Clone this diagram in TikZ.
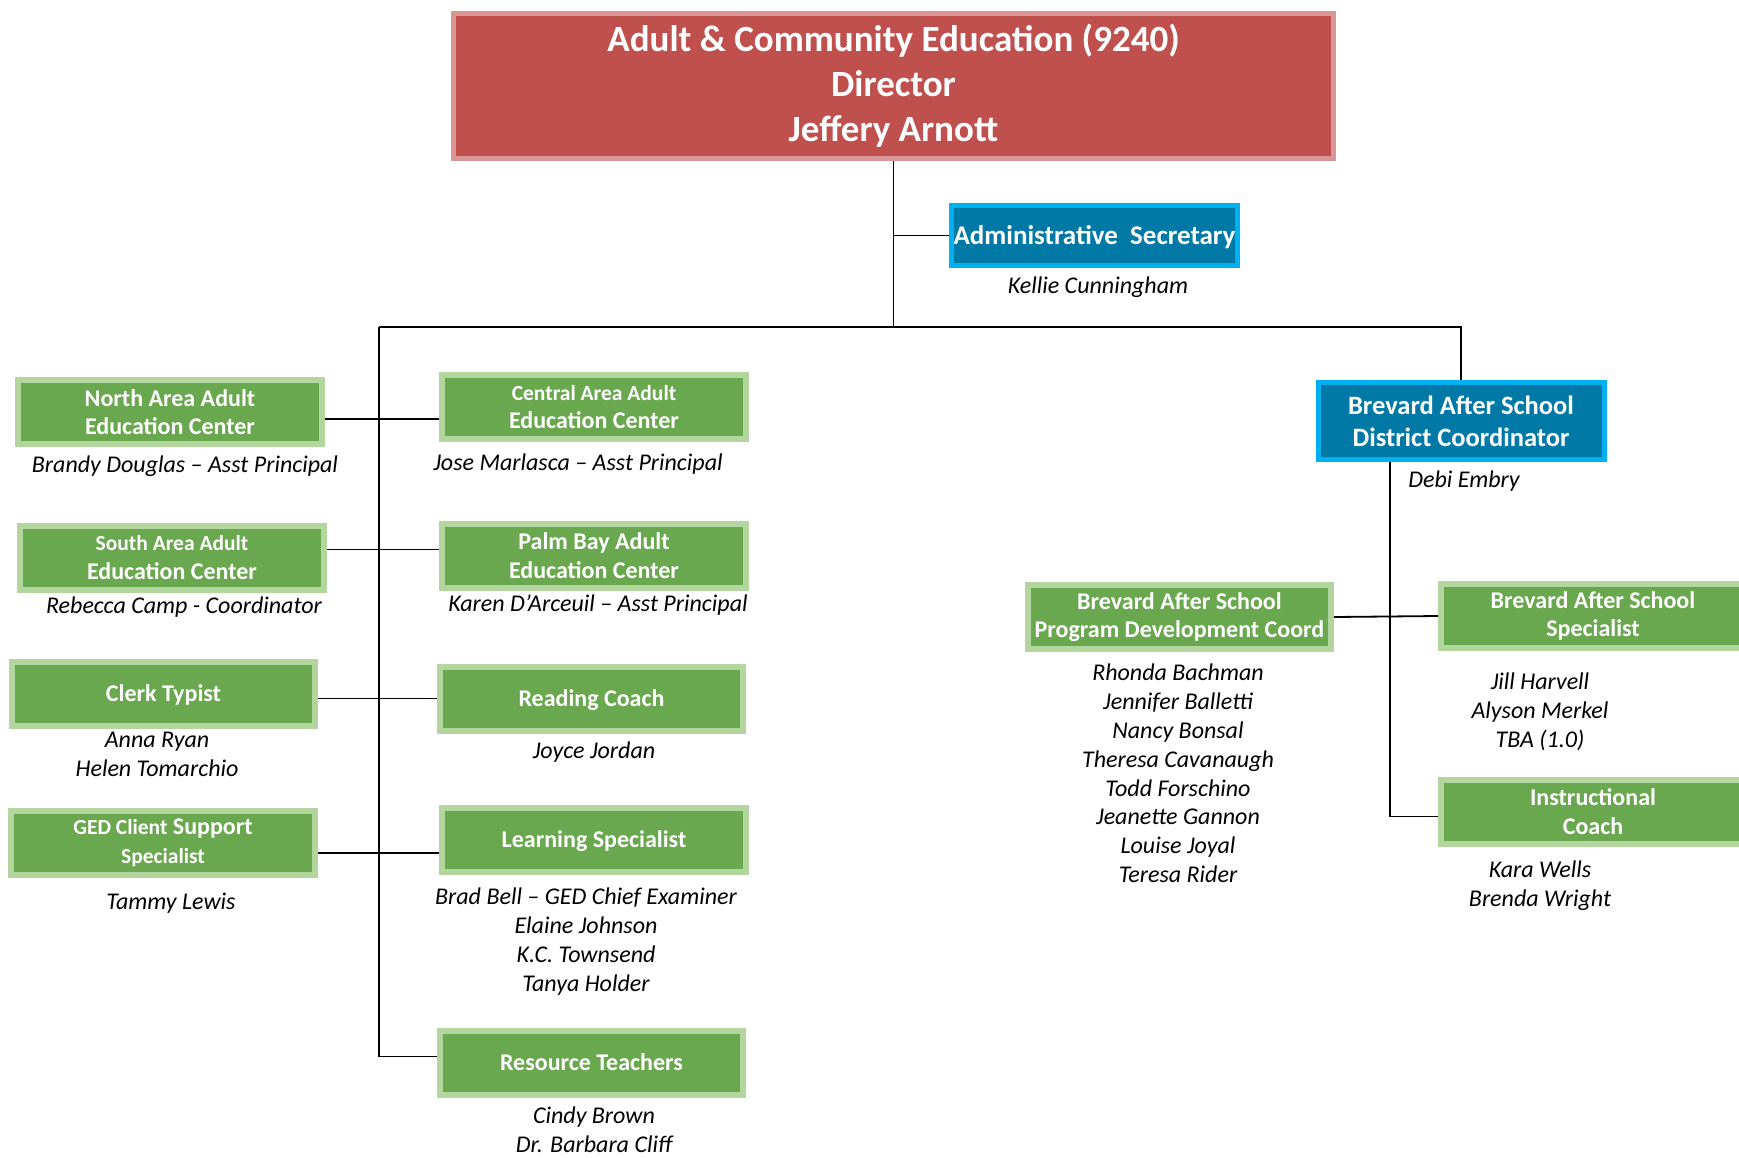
\documentclass[tikz,border=0pt]{standalone}
\usepackage{fontspec}
\setmainfont{Carlito}
\usepackage{tikz}
\usetikzlibrary{positioning}
\definecolor{HeadRed}{RGB}{192,80,77}
\definecolor{HeadRim}{RGB}{217,150,148}
\definecolor{MainBlue}{RGB}{0,121,166}
\definecolor{BlueRim}{RGB}{0,176,240}
\definecolor{MainGreen}{RGB}{106,168,79}
\definecolor{GreenRim}{RGB}{178,214,158}
\tikzset{
  % caselle
  box/.style={rectangle,line width=6pt,minimum width=304pt,minimum height=64pt,inner sep=2pt,align=center,text=white,font=\fontsize{24}{28.5}\selectfont\bfseries},
  box green/.style={box,draw=GreenRim,fill=MainGreen},
  box blue/.style={box,draw=BlueRim,fill=MainBlue,line width=5pt,minimum width=286pt},
  box head/.style={box,draw=HeadRim,fill=HeadRed,line width=5pt,font=\fontsize{37}{45}\selectfont\bfseries},
  one line/.style={text height=15.5pt,text depth=0pt},
  % nomi sotto le caselle
  staff/.style={anchor=north,align=center,inner sep=0pt,font=\fontsize{24}{28.8}\selectfont\itshape,execute at begin node=\strut},
  % collegamenti
  connect/.style={line width=1.8pt,black}
}
\newcommand{\smallrow}{\fontsize{21.5}{28}\selectfont}
\begin{document}
\begin{tikzpicture}[x=1pt,y=-1pt]
  \useasboundingbox (0,0) rectangle (1739,1157);
  \clip (0,0) rectangle (1739,1157);
  \node[box head,minimum width=880pt,minimum height=145pt] (head) at (893.5,86)
    {Adult \& Community Education (9240)\\Director\\Jeffery Arnott};
  \node[box blue,minimum height=60pt,font=\fontsize{27}{32}\selectfont\bfseries,text height=17.4pt,text depth=0pt] (admin) at (1094.5,235.5) {Administrative\ \ Secretary};
  \node[box blue,minimum height=77pt,font=\fontsize{26.5}{32}\selectfont\bfseries] (district) at (1461,421)
    {Brevard After School\\District Coordinator};
  \node[box green] (north) at (170,412) {North Area Adult\\Education Center};
  \node[box green] (central) at (594,407) {{\smallrow Central Area Adult}\\Education Center};
  \node[box green] (south) at (172,557.5) {{\smallrow South Area Adult}\\Education Center};
  \node[box green] (palm) at (594,555.5) {Palm Bay Adult\\Education Center};
  \node[box green,one line,minimum width=303pt] (clerk) at (163.5,693.5) {Clerk Typist};
  \node[box green,one line,minimum width=303pt] (reading) at (591.5,698.5) {Reading Coach};
  \node[box green] (ged) at (163,843) {{\smallrow GED Client} Support\\{\smallrow Specialist}};
  \node[box green,one line] (learning) at (594,839.5) {Learning Specialist};
  \node[box green,one line,minimum width=303pt] (resource) at (591.5,1062.5) {Resource Teachers};
  \node[box green,minimum width=303pt] (progdev) at (1179.5,617) {Brevard After School\\Program Development Coord};
  \node[box green] (spec) at (1593,616) {Brevard After School\\Specialist};
  \node[box green] (instr) at (1593,811.5) {Instructional\\Coach};

  \node[staff] (adminN) at (1098,273) {Kellie Cunningham};
  \node[staff] (districtN) at (1464,467) {Debi Embry};
  \node[staff] (northN) at (185,452) {Brandy Douglas – Asst Principal};
  \node[staff] (centralN) at (578,450) {Jose Marlasca – Asst Principal};
  \node[staff] (southN) at (184,593) {Rebecca Camp - Coordinator};
  \node[staff] (palmN) at (598,591) {Karen D’Arceuil – Asst Principal};
  \node[staff] (clerkN) at (157,732) {Anna Ryan\\Helen Tomarchio};
  \node[staff] (readingN) at (594,738) {Joyce Jordan};
  \node[staff] (gedN) at (171,889) {Tammy Lewis};
  \node[staff] (learningN) at (586,888) {Brad Bell – GED Chief Examiner\\Elaine Johnson\\K.C. Townsend\\Tanya Holder};
  \node[staff] (resourceN) at (594,1107) {Cindy Brown\\Dr. Barbara Cliff};
  \node[staff] (progdevN) at (1178,664) {Rhonda Bachman\\Jennifer Balletti\\Nancy Bonsal\\Theresa Cavanaugh\\Todd Forschino\\Jeanette Gannon\\Louise Joyal\\Teresa Rider};
  \node[staff] (specN) at (1540,673) {Jill Harvell\\Alyson Merkel\\TBA (1.0)};
  \node[staff] (instrN) at (1540,861) {Kara Wells\\Brenda Wright};

  \coordinate (busL) at (379,327);
  \coordinate (busR) at (district.north |- busL);
  \draw[connect] (head.south) -- (head.south |- busL);
  \draw[connect] (head.south |- admin.west) -- (admin.west);
  \draw[connect] (busL) -- (busR) -- (district.north);
  \draw[connect] (busL) |- ([yshift=6pt]resource.west);
  \draw[connect] ([yshift=-7pt]north.east) -- ([yshift=-7pt]north.east -| central.west);
  \draw[connect] ([yshift=8pt]south.east) -- ([yshift=8pt]south.east -| palm.west);
  \draw[connect] (reading.west) -- (reading.west -| clerk.east);
  \draw[connect] ([yshift=-10pt]ged.east) -- ([yshift=-10pt]ged.east -| learning.west);
  \draw[connect] ([xshift=-71pt]district.south) |- ([yshift=-5pt]instr.west);
  \draw[connect] (progdev.east) -- (spec.west);
\end{tikzpicture}
\end{document}
